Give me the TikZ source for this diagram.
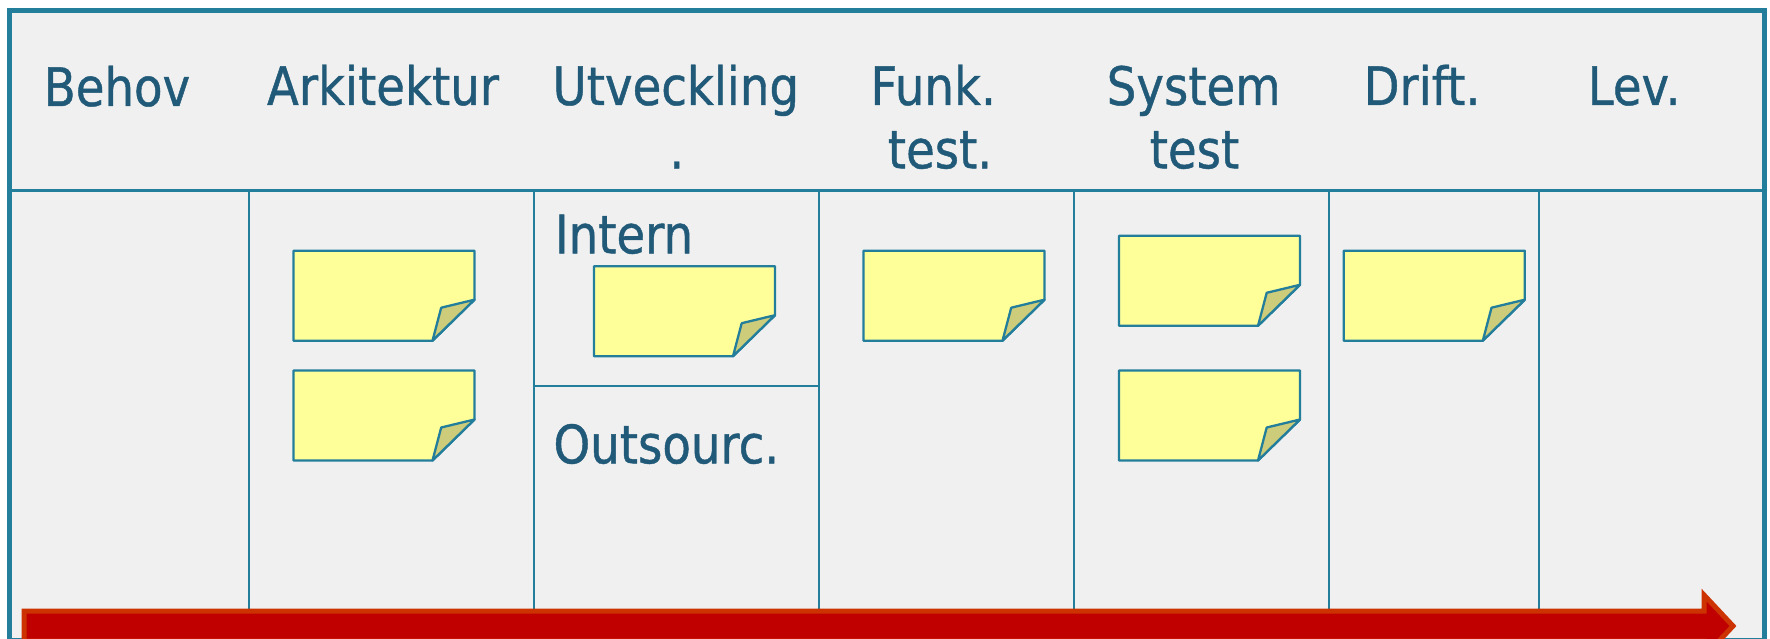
\documentclass[tikz,border=0pt]{standalone}
\usepackage{fontspec}
\newfontfamily\lab[FakeStretch=0.88,FakeBold=0.8]{DejaVu Sans}
\definecolor{framec}{HTML}{237E9C}
\definecolor{txtc}{HTML}{215A78}
\definecolor{bgc}{HTML}{F0F0F0}
\definecolor{notec}{HTML}{FFFF99}
\definecolor{flapc}{HTML}{CCCC7A}
\definecolor{arrowfill}{HTML}{C00000}
\definecolor{arrowline}{HTML}{CC3300}
\begin{document}
\begin{tikzpicture}[x=1pt,y=-1pt,
  lbl/.style={font=\lab\fontsize{53}{60}\selectfont, text=txtc, inner sep=0pt, anchor=base},
  divline/.style={draw=framec, line width=2pt},
  headline/.style={draw=framec, line width=3pt},
  sticky/.pic={
    \path[draw=framec, line width=2.3pt, fill=notec, line join=round]
      (0,0) -- (181,0) -- (181,49) -- (139,90) -- (0,90) -- cycle;
    \path[draw=framec, line width=2.3pt, fill=flapc, line join=round]
      (181,49) -- (147.7,57) -- (139,90) -- cycle;
  }]
\useasboundingbox (0,0) rectangle (1770,639);
\clip (0,0) rectangle (1770,639);
\fill[white] (0,0) rectangle (1770,639);
% frame
\coordinate (tl) at (9.5,11);
\coordinate (br) at (1764,640);
\draw[framec, line width=5pt, fill=bgc] (tl) rectangle (br);
% header separator
\coordinate (hl) at (9.5,191);
\coordinate (hr) at (1764,191);
\draw[headline] (hl) -- (hr);
% column dividers
\foreach \n/\x in {c1/249,c2/534,c3/818.5,c4/1074,c5/1329,c6/1539}{
  \coordinate (\n t) at (\x,191);
  \coordinate (\n b) at (\x,609);
  \draw[divline] (\n t) -- (\n b);
}
% Intern / Outsourc split
\coordinate (sl) at (534,386);
\coordinate (sr) at (818.5,386);
\draw[divline] (sl) -- (sr);
% headers
\node[lbl] (behov) at (117,106) {Behov};
\node[lbl] (arki) at (383,105) {Arkitektur};
\node[lbl] (utv) at (675.8,105) {Utveckling};
\node[lbl] (utvdot) at (676.7,168.3) {.};
\node[lbl] (funk) at (933.2,105) {Funk.};
\node[lbl] (funk2) at (940,168.3) {test.};
\node[lbl] (sys) at (1193.7,105) {System};
\node[lbl] (sys2) at (1194.5,168.3) {test};
\node[lbl] (drift) at (1422,105) {Drift.};
\node[lbl] (lev) at (1634,105) {Lev.};
\node[lbl] (intern) at (624,253.3) {Intern};
\node[lbl] (outs) at (666.3,463.3) {Outsourc.};
% sticky notes
\pic at (293.5,250.7) {sticky};
\pic at (293.5,370.5) {sticky};
\pic at (594,266.2) {sticky};
\pic at (863.5,250.7) {sticky};
\pic at (1119,235.8) {sticky};
\pic at (1119,370.5) {sticky};
\pic at (1343.8,250.7) {sticky};
% arrow
\draw[arrowline, fill=arrowfill, line width=5pt, line join=miter]
  (24,611) -- (1704,611) -- (1704,595) -- (1733,626) -- (1704,657) -- (1704,641) -- (24,641) -- cycle;
\end{tikzpicture}
\end{document}
